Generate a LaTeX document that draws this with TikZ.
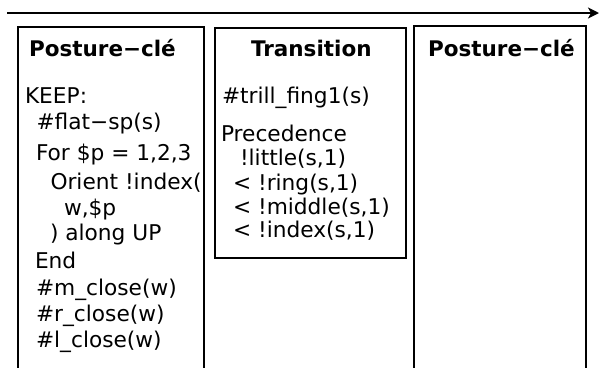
\documentclass[tikz,border=0pt]{standalone}
\usepackage{fontspec}
\setmainfont{DejaVu Sans}
\usetikzlibrary{positioning, arrows.meta}

\begin{document}
\begin{tikzpicture}[
  x=1bp, y=-1bp,
  >={Stealth[length=11bp, width=11bp, inset=3bp]},
  every node/.style={font=\fontsize{21.7bp}{25bp}\selectfont, inner sep=0pt, outer sep=0pt},
  colbox/.style = {draw, line width=2bp, anchor=north west},
  head/.style   = {anchor=base west, font=\fontsize{21.5bp}{25bp}\selectfont\bfseries},
  txt/.style    = {anchor=base west},
  arr/.style    = {->, line width=2bp},
]
  \clip (0,0) rectangle (600,367);
  % time line across the top
  \coordinate (tstart) at (7,13);
  \coordinate (tend)   at (599,13);
  \draw[arr] (tstart) -- (tend);

  % three columns: key posture, transition, key posture
  \node[colbox, minimum width=186bp, minimum height=360bp] (keyA)  at (18,27)    {};
  \node[colbox, minimum width=191bp, minimum height=230bp] (trans) at (214.5,28) {};
  \node[colbox, minimum width=172.5bp, minimum height=360bp] (keyB) at (413.5,25.5) {};

  \node[head] (hA) at (29,56)  {Posture−clé};
  \node[head] (hT) at (251,56) {Transition};
  \node[head] (hB) at (428,56) {Posture−clé};

  % body of the first key posture
  \foreach \y/\x/\txt [count=\i] in {
      103/25/{KEEP:},
      129/36.5/{\#flat−sp(s)},
      160/36/{For \$p = 1,2,3},
      189/50.5/{Orient !index(},
      215/64/{w,\$p},
      240/50/{) along UP},
      268/35/{End},
      295/36/{\#m\_close(w)},
      321/36/{\#r\_close(w)},
      347/36/{\#l\_close(w)}}
    \node[txt] (a\i) at (\x,\y) {\txt};

  % body of the transition
  \foreach \y/\x/\txt [count=\i] in {
      103/222/{\#trill\_fing1(s)},
      141/221/{Precedence},
      165/240/{!little(s,1)},
      190/233/{< !ring(s,1)},
      214/233/{< !middle(s,1)},
      237/233/{< !index(s,1)}}
    \node[txt] (t\i) at (\x,\y) {\txt};
\end{tikzpicture}
\end{document}
